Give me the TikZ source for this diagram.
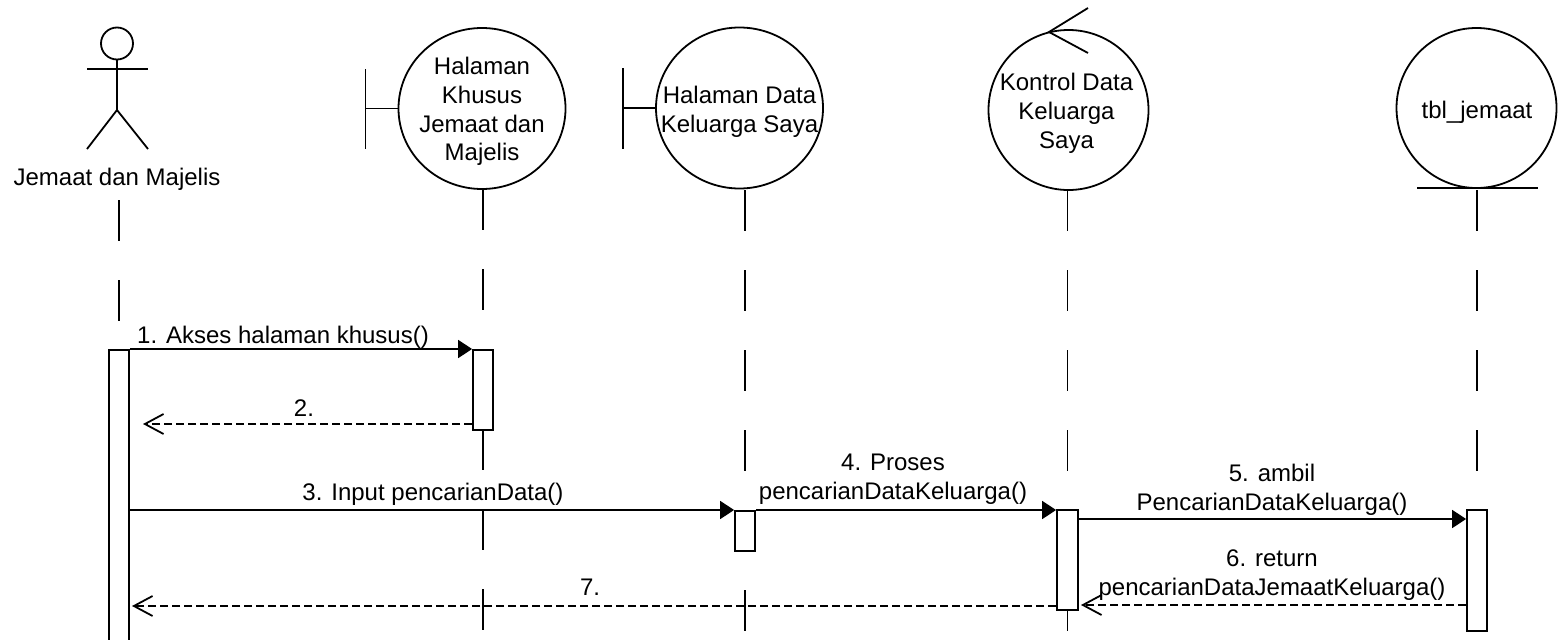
\documentclass[tikz,border=0pt]{standalone}
\usepackage{fontspec}
\setmainfont{Liberation Sans}
\usetikzlibrary{arrows.meta,calc,shapes.geometric}
\newlength\px \setlength\px{0.75pt}
\begin{document}
\begin{tikzpicture}[x=0.75pt, y=-0.75pt,
  every node/.style={font=\fontsize{18pt}{21.6pt}\selectfont, inner sep=0pt},
  shapeline/.style={line width=1.35pt},
  lifeline/.style={line width=1.35pt, dash pattern=on 30.75pt off 29.25pt},
  actbar/.style={draw, fill=white, line width=1.35pt, minimum width=20\px, minimum height=#1, anchor=north},
  boundary/.style={ellipse, draw, line width=1.35pt, minimum width=167\px, minimum height=161\px},
  roundobj/.style={circle, draw, line width=1.35pt, minimum size=160\px},
  msg/.style={line width=1.35pt, -{Triangle[length=10.5pt,width=13.5pt]}},
  ret/.style={line width=1.35pt, dash pattern=on 6pt off 3pt, -{Straight Barb[length=14pt,width=15pt,line width=1.35pt]}},
  lbl/.style={anchor=base, align=center},
  lbl2/.style={anchor=center, align=center}
]
\fill[white] (0,0) rectangle (1566,639);
\useasboundingbox (0,0) rectangle (1566,639);

% ---------- actor ----------
\node[circle, draw, shapeline, minimum size=32\px] (head) at (117,43.5) {};
\coordinate (hip) at (117,110);
\draw[shapeline] (87,69) -- (148,69);
\draw[shapeline] (head.south) -- (hip);
\draw[shapeline] (87,149) -- (hip) -- (148,149);
\node[lbl] (actorlbl) at (117,185.5) {Jemaat dan Majelis};

% ---------- boundary 1 ----------
\node[boundary] (b1) at (482,108.5) {};
\node[lbl2] (b1text) at (482,111.5) {Halaman\\Khusus\\Jemaat dan\\Majelis};
\draw[shapeline] (365.5,69) -- (365.5,149);
\draw[shapeline] (365.5,108.5) -- (b1.west);

% ---------- boundary 2 ----------
\node[boundary] (b2) at (739.5,108) {};
\node[lbl2] (b2text) at (739.5,112) {Halaman Data\\Keluarga Saya};
\draw[shapeline] (623,68) -- (623,149);
\draw[shapeline] (623,108) -- (b2.west);

% ---------- control ----------
\node[roundobj] (ctrl) at (1068.5,110) {};
\node[lbl2] (ctext) at (1066.5,113.5) {Kontrol Data\\Keluarga\\Saya};
\draw[shapeline] (1088,8) -- (1049,32) -- (1088,53);

% ---------- entity ----------
\node[roundobj] (tbl) at (1476.5,108) {};
\node[lbl] (ttext) at (1477,118.5) {tbl\_jemaat};
\draw[shapeline] (1417,188) -- (1538,188);

% ---------- lifelines ----------
\coordinate (alife) at (119,200);
\path (119,349) coordinate (aacttop);
\draw[lifeline] (alife) -- ++(0,460);
\draw[lifeline] (483,189) -- ++(0,470);
\draw[lifeline] (745,190) -- ++(0,470);
\draw[lifeline] (1067.5,190) -- ++(0,470);
\draw[lifeline] (1477,190) -- ++(0,470);

% ---------- activation bars ----------
\node[actbar=320\px] (aact) at (aacttop) {};
\node[actbar=80\px] (b1act) at (483,349) {};
\node[actbar=40\px] (b2act) at (745,510) {};
\node[actbar=100\px, minimum width=21\px] (cact) at (1067.5,509) {};
\node[actbar=121\px] (tact) at (1477,509) {};

% ---------- messages ----------
\coordinate (r2) at (143,424);
\coordinate (r6) at (1081,605);
\coordinate (r7) at (132,606);
\path ($(cact.north east)+(0,10)$) coordinate (m5s);

\draw[msg] (aact.north east) -- (b1act.north west);
\node[lbl] (m1) at (283,343.5) {1. Akses halaman khusus()};

\draw[ret] (b1act.west |- r2) -- (r2);
\node[lbl] (m2) at (304,416.5) {2.};

\draw[msg] (aact.east |- b2act.north) -- (b2act.north west);
\node[lbl] (m3) at (433,500.5) {3. Input pencarianData()};

\draw[msg] (b2act.north east) -- (cact.west |- b2act.north);
\node[lbl2] (m4) at (893,479.5) {4. Proses\\pencarianDataKeluarga()};

\draw[msg] (m5s) -- (tact.west |- m5s);
\node[lbl2] (m5) at (1272,490) {5. ambil\\PencarianDataKeluarga()};

\draw[ret] (tact.west |- r6) -- (r6);
\node[lbl2] (m6) at (1272,575) {6. return\\pencarianDataJemaatKeluarga()};

\draw[ret] (cact.west |- r7) -- (r7);
\node[lbl] (m7) at (590,595.5) {7.};
\end{tikzpicture}
\end{document}
